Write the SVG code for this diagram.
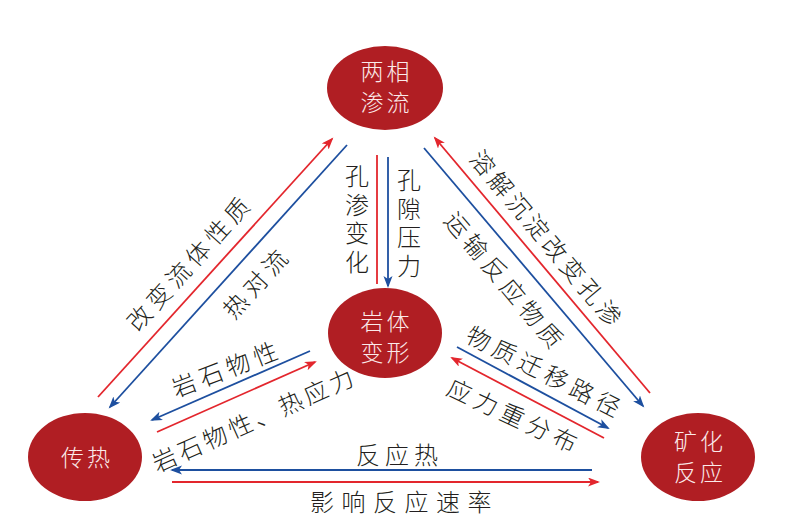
<svg xmlns="http://www.w3.org/2000/svg" width="789" height="531" viewBox="0 0 789 531">
<defs>
<marker id="ar" markerUnits="userSpaceOnUse" markerWidth="14" markerHeight="10" refX="10" refY="4.5" orient="auto"><path d="M0,0 L12,4.5 L0,9 L3,4.5 z" fill="#e3262d"/></marker>
<marker id="ab" markerUnits="userSpaceOnUse" markerWidth="14" markerHeight="10" refX="10" refY="4.5" orient="auto"><path d="M0,0 L12,4.5 L0,9 L3,4.5 z" fill="#1d4f9f"/></marker>
<style>
.node{fill:#b01e23}
.nt{font-family:"Noto Sans CJK SC","Noto Sans",sans-serif;font-size:23px;fill:#fbeaea;text-anchor:middle;letter-spacing:3px;font-weight:300}
.lb{font-family:"Noto Sans CJK SC","Noto Sans",sans-serif;font-size:24px;fill:#231f20;text-anchor:middle;dominant-baseline:central;font-weight:300}
.vt{font-family:"Noto Sans CJK SC","Noto Sans",sans-serif;font-size:24px;fill:#231f20;writing-mode:vertical-rl;letter-spacing:4.5px;font-weight:300}
.r{stroke:#e3262d;stroke-width:1.8;fill:none}
.b{stroke:#1d4f9f;stroke-width:1.8;fill:none}
</style>
</defs>
<rect width="789" height="531" fill="#ffffff"/>
<g id="connectors">
<line class="r" x1="98" y1="397" x2="332" y2="139" marker-end="url(#ar)"/>
<line class="b" x1="347" y1="145" x2="110" y2="407" marker-end="url(#ab)"/>
<line class="r" x1="377" y1="155" x2="377" y2="284"/>
<line class="b" x1="388" y1="157" x2="388" y2="286" marker-end="url(#ab)"/>
<line class="r" x1="650" y1="393" x2="435" y2="138" marker-end="url(#ar)"/>
<line class="b" x1="424" y1="148" x2="643" y2="406" marker-end="url(#ab)"/>
<line class="b" x1="310" y1="351" x2="152" y2="420" marker-end="url(#ab)"/>
<line class="r" x1="157" y1="432" x2="315" y2="362" marker-end="url(#ar)"/>
<line class="b" x1="457" y1="347" x2="608" y2="428" marker-end="url(#ab)"/>
<line class="r" x1="604" y1="438" x2="452" y2="358" marker-end="url(#ar)"/>
<line class="b" x1="592" y1="470" x2="172" y2="470" marker-end="url(#ab)"/>
<line class="r" x1="172" y1="482" x2="598" y2="482" marker-end="url(#ar)"/>
</g>
<g id="labels">
<text class="lb" transform="rotate(-47.8 187 263)" x="189.5" y="263" style="letter-spacing:5px">改变流体性质</text>
<text class="lb" transform="rotate(-47.8 254 283)" x="256.5" y="283" style="letter-spacing:5px">热对流</text>
<text class="vt" x="357" y="164">孔渗变化</text>
<text class="vt" x="409" y="168">孔隙压力</text>
<text class="lb" transform="rotate(50 547 237)" x="549" y="237" style="letter-spacing:4px">溶解沉淀改变孔渗</text>
<text class="lb" transform="rotate(50 505 279)" x="507.5" y="279" style="letter-spacing:5px">运输反应物质</text>
<text class="lb" transform="rotate(-21 224 368)" x="226.5" y="368" style="letter-spacing:5px">岩石物性</text>
<text class="lb" transform="rotate(-24 252 419)" x="254" y="419" style="letter-spacing:3.6px">岩石物性、热应力</text>
<text class="lb" transform="rotate(27 544 370)" x="546.5" y="370" style="letter-spacing:5px">物质迁移路径</text>
<text class="lb" transform="rotate(25 513 414)" x="515.5" y="414" style="letter-spacing:5px">应力重分布</text>
<text class="lb" x="399.5" y="453" style="letter-spacing:5px">反应热</text>
<text class="lb" x="404.5" y="500" style="letter-spacing:7.5px">影响反应速率</text>
</g>
<g id="node-liangxiang">
<ellipse class="node" cx="385" cy="88" rx="58" ry="42"/>
<text class="nt" x="386.5" y="80">两相</text>
<text class="nt" x="386.5" y="111">渗流</text>
</g>
<g id="node-yanti">
<ellipse class="node" cx="385" cy="333" rx="57" ry="45"/>
<text class="nt" x="386.5" y="330">岩体</text>
<text class="nt" x="386.5" y="361">变形</text>
</g>
<g id="node-chuanre">
<ellipse class="node" cx="85" cy="457" rx="57" ry="44"/>
<text class="nt" x="87" y="466">传热</text>
</g>
<g id="node-kuanghua">
<ellipse class="node" cx="698" cy="457" rx="57" ry="44"/>
<text class="nt" x="700" y="450">矿化</text>
<text class="nt" x="700" y="481">反应</text>
</g>
</svg>
